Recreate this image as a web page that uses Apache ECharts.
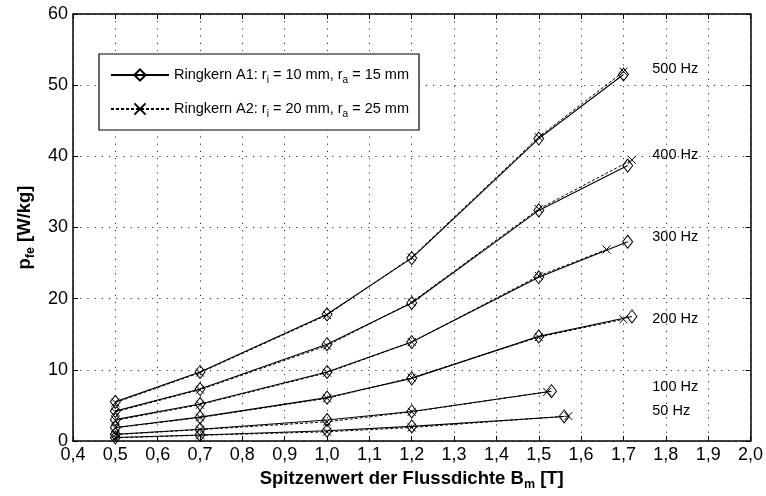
<!DOCTYPE html>
<html>
<head>
<meta charset="utf-8">
<script src="https://cdn.jsdelivr.net/npm/echarts@6/dist/echarts.min.js"></script>
<style>html,body{margin:0;padding:0;background:#fff}#c{width:766px;height:496px}</style>
</head>
<body>
<div id="c"></div>
<script>
// ---- data ----
const frequencies = ['500 Hz', '400 Hz', '300 Hz', '200 Hz', '100 Hz', '50 Hz'];
// Ringkern A1 (diamonds): [B, p]
const a1_500 = [[0.5,5.5],[0.7,9.7],[1.0,17.8],[1.2,25.7],[1.5,42.5],[1.70,51.5]];
const a1_400 = [[0.5,4.2],[0.7,7.3],[1.0,13.6],[1.2,19.4],[1.5,32.4],[1.71,38.7]];
const a1_300 = [[0.5,3.0],[0.7,5.2],[1.0,9.7],[1.2,13.9],[1.5,23.0],[1.71,28.0]];
const a1_200 = [[0.5,1.9],[0.7,3.35],[1.0,6.1],[1.2,8.8],[1.5,14.7],[1.72,17.5]];
const a1_100 = [[0.5,0.95],[0.7,1.65],[1.0,2.95],[1.2,4.15],[1.53,7.0]];
const a1_50  = [[0.5,0.5],[0.7,0.85],[1.0,1.45],[1.2,2.05],[1.56,3.45]];
// Ringkern A2 (crosses)
const a2_500 = [[0.5,5.4],[0.7,9.6],[1.0,17.7],[1.2,25.8],[1.5,42.7],[1.70,51.9]];
const a2_400 = [[0.5,4.1],[0.7,7.2],[1.0,13.4],[1.2,19.5],[1.5,32.6],[1.72,39.5]];
const a2_300 = [[0.5,2.9],[0.7,5.1],[1.0,9.6],[1.2,13.9],[1.5,23.2],[1.66,26.9]];
const a2_200 = [[0.5,1.85],[0.7,3.3],[1.0,6.0],[1.2,8.9],[1.5,14.6],[1.70,17.1]];
const a2_100 = [[0.5,0.9],[0.7,1.6],[1.0,2.7],[1.2,4.1],[1.52,6.9]];
const a2_50  = [[0.5,0.45],[0.7,0.8],[1.0,1.3],[1.2,1.9],[1.57,3.5]];
// curve labels: [B, p] anchor of the text
const labelPos = [[1.768,52.3],[1.768,40.2],[1.768,28.7],[1.768,17.1],[1.768,7.55],[1.768,4.2]];
const xTicks = {min: 0.4, max: 2.0, step: 0.1};
const yTicks = {min: 0, max: 60, step: 10};
const nameA1 = 'Ringkern A1: r{sub|i} = 10 mm, r{sub|a} = 15 mm';
const nameA2 = 'Ringkern A2: r{sub|i} = 20 mm, r{sub|a} = 25 mm';

// ---- chart ----
const FONT = '"Liberation Sans", Arial, Helvetica, sans-serif';
const chart = echarts.init(document.getElementById('c'), null, {renderer: 'canvas'});
const a1Sets = [a1_500, a1_400, a1_300, a1_200, a1_100, a1_50];
const a2Sets = [a2_500, a2_400, a2_300, a2_200, a2_100, a2_50];
const series = [];
a1Sets.forEach(d => series.push({
  type: 'line', name: nameA1, data: d, xAxisIndex: 0, yAxisIndex: 0,
  symbol: 'diamond', symbolSize: [10, 13], showAllSymbol: true,
  lineStyle: {color: '#000', width: 1.1},
  itemStyle: {color: 'rgba(255,255,255,0)', borderColor: '#000', borderWidth: 1},
  emphasis: {disabled: true}, z: 3
}));
a2Sets.forEach(d => series.push({
  type: 'line', name: nameA2, data: d, xAxisIndex: 0, yAxisIndex: 0,
  symbol: 'path://M0,0L10,10M10,0L0,10', symbolSize: 8, showAllSymbol: true,
  lineStyle: {color: '#000', width: 1, type: [3, 2]},
  itemStyle: {color: 'rgba(255,255,255,0)', borderColor: '#000', borderWidth: 1},
  emphasis: {disabled: true}, z: 2
}));
series.push({
  type: 'scatter', name: 'labels', xAxisIndex: 0, yAxisIndex: 0,
  data: labelPos.map((p, i) => [p[0], p[1], frequencies[i]]),
  symbolSize: 0.1, itemStyle: {color: '#fff'}, silent: true, z: 5,
  label: {show: true, position: 'right', distance: 0, formatter: p => p.value[2],
    color: '#000', opacity: 1, fontFamily: FONT, fontSize: 14.5}
});

const fmt = v => v.toFixed(1).replace('.', ',');
const axisCommon = {
  axisLine: {show: true, onZero: false, lineStyle: {color: '#000', width: 1.5}},
  axisTick: {show: true, inside: true, length: 5, lineStyle: {color: '#000', width: 1}},
};
const titleRich = {
  t: {fontSize: 18.5, fontWeight: 'bold', fontFamily: FONT, color: '#000', lineHeight: 24},
  s: {fontSize: 12.5, fontWeight: 'bold', fontFamily: FONT, color: '#000', verticalAlign: 'bottom'}
};

chart.setOption({
  animation: false,
  backgroundColor: '#fff',
  textStyle: {fontFamily: FONT},
  grid: {left: 73, right: 15, top: 14, bottom: 55, show: false},
  legend: {
    data: [nameA1, nameA2], orient: 'vertical', left: 99, top: 54,
    backgroundColor: '#fff', borderColor: '#000', borderWidth: 1.2, borderRadius: 0,
    padding: [11, 10, 11, 11], itemWidth: 58, itemHeight: 14, itemGap: 14,
    selectedMode: false,
    textStyle: {fontFamily: FONT, fontSize: 14.5, color: '#000', lineHeight: 20,
      rich: {sub: {fontSize: 10, fontFamily: FONT, color: '#000', verticalAlign: 'bottom'}}},
    formatter: n => n
  },
  xAxis: [
    Object.assign({
      type: 'value', min: xTicks.min, max: xTicks.max, interval: xTicks.step,
      position: 'bottom',
      name: '{t|Spitzenwert der Flussdichte B}{s|m}{t| [T]}', nameLocation: 'middle', nameGap: 26,
      nameTextStyle: {rich: titleRich},
      axisLabel: {formatter: fmt, color: '#000', fontSize: 18, fontFamily: FONT, margin: 5},
      splitLine: {show: true, lineStyle: {color: '#333', width: 1, type: [1.2, 6]}}
    }, axisCommon),
    Object.assign({
      type: 'value', min: xTicks.min, max: xTicks.max, interval: xTicks.step,
      position: 'top', axisLabel: {show: false}, splitLine: {show: false}
    }, axisCommon)
  ],
  yAxis: [
    Object.assign({
      type: 'value', min: yTicks.min, max: yTicks.max, interval: yTicks.step,
      position: 'left',
      name: '{t|p}{s|fe}{t| [W/kg]}', nameLocation: 'middle', nameGap: 31,
      nameTextStyle: {rich: titleRich},
      axisLabel: {color: '#000', fontSize: 18, fontFamily: FONT, margin: 5},
      splitLine: {show: true, lineStyle: {color: '#333', width: 1, type: [1.2, 6]}}
    }, axisCommon),
    Object.assign({
      type: 'value', min: yTicks.min, max: yTicks.max, interval: yTicks.step,
      position: 'right', axisLabel: {show: false}, splitLine: {show: false}
    }, axisCommon)
  ],
  series: series
});
</script>
</body>
</html>
